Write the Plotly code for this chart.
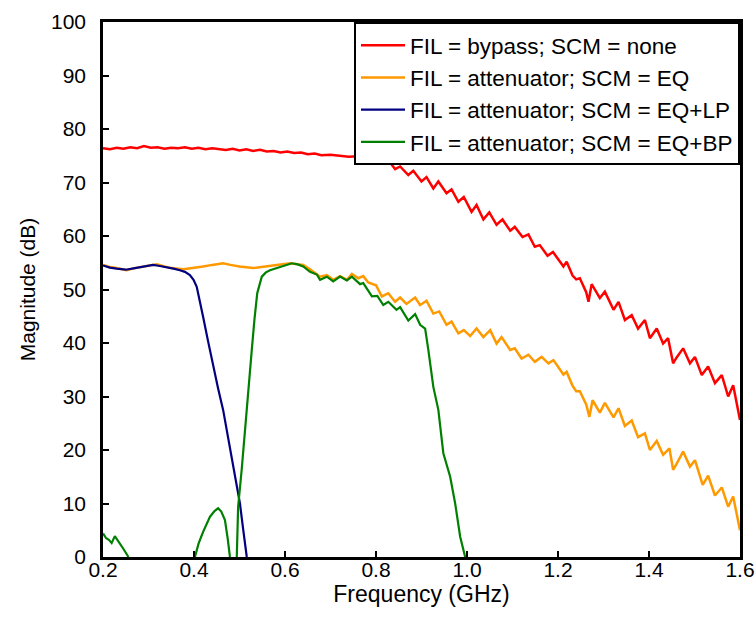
import plotly.graph_objects as go

# ---------------- data ----------------
red_f = [0.200, 0.215, 0.230, 0.245, 0.260, 0.275, 0.290, 0.305, 0.320, 0.335,
         0.350, 0.365, 0.380, 0.395, 0.410, 0.425, 0.440, 0.455, 0.470, 0.485,
         0.500, 0.515, 0.530, 0.545, 0.560, 0.575, 0.590, 0.605, 0.620, 0.635,
         0.650, 0.665, 0.680, 0.700, 0.720, 0.740, 0.760, 0.780, 0.800, 0.812,
         0.827, 0.842, 0.853, 0.871, 0.882, 0.900, 0.911, 0.926, 0.937, 0.955,
         0.966, 0.981, 0.993, 1.010, 1.021, 1.036, 1.049, 1.065, 1.078, 1.095,
         1.105, 1.122, 1.135, 1.149, 1.160, 1.177, 1.189, 1.212, 1.219, 1.232,
         1.240, 1.248, 1.262, 1.267, 1.274, 1.292, 1.303, 1.322, 1.333, 1.347,
         1.362, 1.376, 1.391, 1.402, 1.417, 1.431, 1.442, 1.453, 1.460, 1.475,
         1.490, 1.501, 1.516, 1.530, 1.545, 1.560, 1.574, 1.585, 1.600]
red_db = [76.4, 76.2, 76.5, 76.3, 76.6, 76.4, 76.8, 76.5, 76.6, 76.3,
          76.5, 76.4, 76.6, 76.3, 76.5, 76.2, 76.4, 76.3, 76.1, 76.3,
          76.0, 76.2, 75.9, 76.1, 75.8, 75.9, 75.6, 75.8, 75.5, 75.6,
          75.3, 75.4, 75.1, 75.2, 75.0, 74.8, 74.9, 74.4, 74.5, 73.8,
          74.2, 72.5, 73.0, 71.4, 72.2, 70.2, 71.0, 68.9, 70.2, 68.0,
          68.7, 66.4, 67.3, 64.5, 65.8, 63.1, 64.4, 62.1, 63.1, 61.0,
          61.7, 59.8, 60.3, 58.0, 58.3, 56.3, 57.0, 54.3, 55.2, 52.6,
          51.9, 52.1, 49.5, 47.7, 51.0, 48.4, 49.6, 46.2, 47.7, 44.3,
          45.2, 42.7, 44.3, 40.9, 42.7, 39.9, 40.9, 36.2, 37.2, 39.0,
          36.2, 37.4, 34.0, 35.6, 32.5, 34.0, 30.0, 32.1, 25.6]

orange_f = [0.200, 0.215, 0.230, 0.252, 0.270, 0.290, 0.318, 0.335, 0.350, 0.377,
            0.400, 0.420, 0.440, 0.464, 0.480, 0.500, 0.530, 0.550, 0.570, 0.590,
            0.611, 0.628, 0.640, 0.655, 0.677, 0.692, 0.706, 0.721, 0.736, 0.747,
            0.761, 0.772, 0.783, 0.800, 0.813, 0.827, 0.842, 0.853, 0.867, 0.886,
            0.897, 0.911, 0.926, 0.939, 0.955, 0.966, 0.981, 0.993, 1.007, 1.021,
            1.036, 1.051, 1.065, 1.076, 1.095, 1.105, 1.120, 1.135, 1.149, 1.164,
            1.179, 1.190, 1.212, 1.219, 1.232, 1.240, 1.248, 1.262, 1.269, 1.276,
            1.292, 1.303, 1.322, 1.333, 1.347, 1.362, 1.376, 1.391, 1.402, 1.417,
            1.431, 1.445, 1.453, 1.460, 1.475, 1.490, 1.501, 1.518, 1.530, 1.545,
            1.560, 1.574, 1.585, 1.600]
orange_db = [54.6, 54.2, 54.0, 53.6, 54.0, 54.3, 54.7, 54.3, 54.0, 53.8,
             54.0, 54.3, 54.6, 54.9, 54.6, 54.3, 54.0, 54.2, 54.5, 54.7,
             54.9, 54.7, 54.6, 53.8, 52.4, 52.7, 51.8, 52.5, 51.8, 52.9,
             52.1, 52.5, 51.3, 50.8, 48.7, 49.3, 47.7, 48.5, 47.3, 48.5,
             47.1, 47.9, 45.5, 45.9, 43.4, 44.0, 41.8, 42.4, 41.3, 42.7,
             41.1, 42.4, 39.9, 41.1, 38.7, 39.0, 37.1, 37.8, 36.5, 37.4,
             36.2, 36.8, 34.1, 34.6, 32.0, 31.0, 31.0, 28.5, 26.2, 29.3,
             27.0, 28.8, 26.1, 27.8, 24.5, 25.5, 22.4, 23.1, 20.0, 21.7,
             19.1, 20.3, 16.3, 17.3, 19.7, 16.9, 18.1, 13.5, 15.2, 11.5,
             13.0, 9.4, 11.3, 5.0]

blue_f = [0.200, 0.215, 0.230, 0.250, 0.270, 0.290, 0.310, 0.325, 0.340, 0.355,
          0.369, 0.380, 0.391, 0.399, 0.406, 0.413, 0.420, 0.431, 0.442, 0.453,
          0.464, 0.475, 0.486, 0.494, 0.501, 0.508, 0.516]
blue_db = [54.5, 54.1, 53.9, 53.7, 54.0, 54.3, 54.6, 54.4, 54.2, 53.9,
           53.6, 53.3, 52.7, 51.8, 50.5, 48.0, 44.9, 40.3, 35.6, 31.5,
           27.5, 22.3, 16.9, 13.3, 10.0, 5.2, 0.0]

green_f = [0.200, 0.207, 0.213, 0.219, 0.226, 0.231, 0.237, 0.245, 0.256, None,
           0.402, 0.410, 0.420, 0.428, 0.435, 0.445, 0.453, 0.460, 0.468, 0.474, 0.479, None,
           0.494, 0.497, 0.505, 0.512, 0.520, 0.527, 0.533, 0.539, 0.549, 0.558,
           0.567, 0.578, 0.589, 0.603, 0.615, 0.628, 0.640, 0.655, 0.670, 0.677,
           0.692, 0.706, 0.721, 0.736, 0.747, 0.765, 0.772, 0.791, 0.803, 0.816,
           0.827, 0.845, 0.853, 0.871, 0.886, 0.897, 0.908, 0.915, 0.926, 0.937,
           0.948, 0.963, 0.974, 0.985, 0.996]
green_db = [4.4, 3.5, 3.2, 2.6, 3.9, 3.2, 2.6, 1.5, 0.0, None,
            0.0, 2.5, 4.7, 6.3, 7.5, 8.6, 9.1, 8.5, 6.9, 3.5, 0.0, None,
            0.0, 9.4, 16.5, 23.1, 31.0, 38.7, 44.5, 49.3, 52.4, 53.2,
            53.6, 53.9, 54.3, 54.6, 54.9, 54.7, 54.3, 53.3, 52.8, 51.8,
            52.4, 51.5, 52.4, 51.7, 52.4, 51.0, 51.2, 48.7, 48.8, 47.1,
            47.7, 46.2, 46.7, 44.2, 45.4, 43.4, 42.7, 38.7, 31.8, 27.5,
            19.4, 15.0, 10.0, 3.8, 0.0]

names = ["FIL = bypass; SCM = none",
         "FIL = attenuator; SCM = EQ",
         "FIL = attenuator; SCM = EQ+LP",
         "FIL = attenuator; SCM = EQ+BP"]
colors = ["#FF0000", "#FF9900", "#000080", "#008000"]

x_ticks = [0.2, 0.4, 0.6, 0.8, 1.0, 1.2, 1.4, 1.6]
y_ticks = [0, 10, 20, 30, 40, 50, 60, 70, 80, 90, 100]

# ---------------- figure ----------------
FONT = "Liberation Sans, Arial, sans-serif"
fig = go.Figure()
series = [(red_f, red_db), (orange_f, orange_db), (blue_f, blue_db), (green_f, green_db)]
widths = [2.5, 2.5, 2.2, 2.2]
for (xf, yd), nm, c, w in zip(series, names, colors, widths):
    fig.add_trace(go.Scatter(x=xf, y=yd, mode="lines", name=nm,
                             line=dict(color=c, width=w), connectgaps=False))

axis_common = dict(showline=True, linecolor="black", linewidth=2.5, mirror=True,
                   ticks="inside", ticklen=6, tickwidth=2, tickcolor="black",
                   showgrid=False, zeroline=False, automargin=False,
                   tickfont=dict(family=FONT, size=21, color="black"))
fig.update_xaxes(range=[0.2, 1.6], tickvals=x_ticks,
                 ticktext=[f"{v:.1f}" for v in x_ticks],
                 ticklabelstandoff=-8,
                 title=dict(text="Frequency (GHz)", font=dict(family=FONT, size=23, color="black"),
                            standoff=4),
                 **axis_common)
fig.update_yaxes(range=[0, 100], tickvals=y_ticks,
                 ticktext=[str(v) for v in y_ticks],
                 ticklabelstandoff=10,
                 title=dict(text="Magnitude (dB)", font=dict(family=FONT, size=21, color="black"),
                            standoff=10),
                 **axis_common)

fig.update_layout(
    width=756, height=639,
    margin=dict(l=103, r=16, t=22, b=82),
    paper_bgcolor="white", plot_bgcolor="white",
    font=dict(family=FONT, size=21, color="black"),
    showlegend=True,
    legend=dict(x=1.0, y=1.0, xanchor="right", yanchor="top",
                bgcolor="white", bordercolor="black", borderwidth=2,
                font=dict(family=FONT, size=22.5, color="black"),
                tracegroupgap=0, itemwidth=44),
)

fig.write_html("out.html")
